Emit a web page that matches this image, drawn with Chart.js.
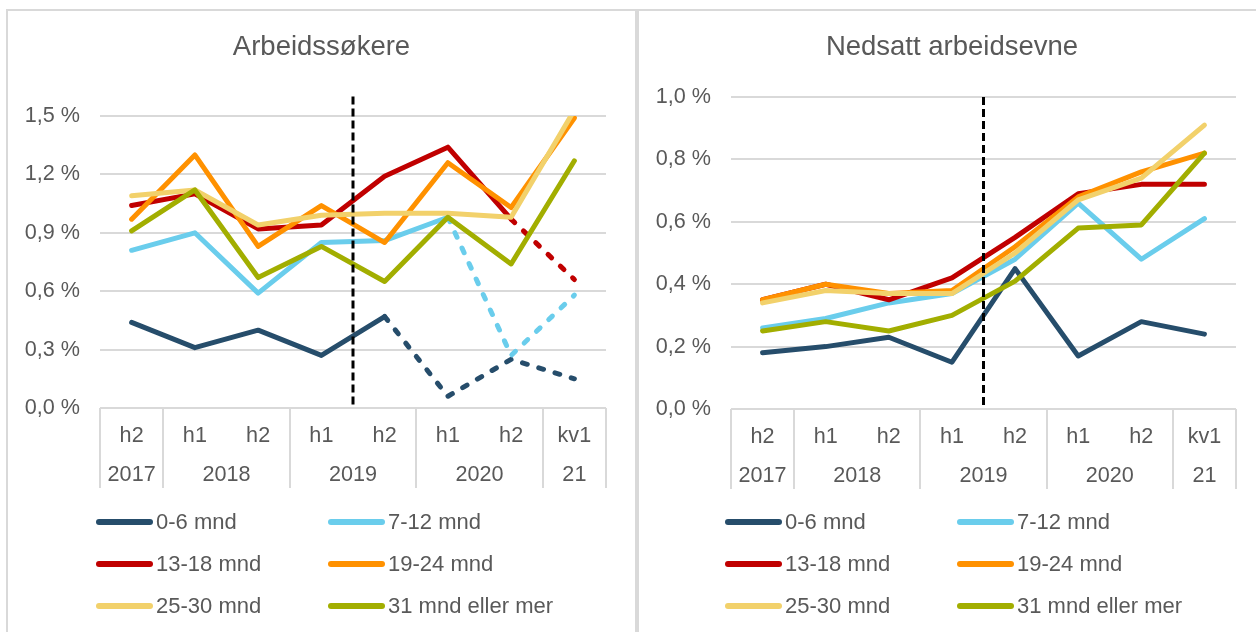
<!DOCTYPE html>
<html><head><meta charset="utf-8">
<script src="https://cdn.jsdelivr.net/npm/chart.js@4/dist/chart.umd.min.js"></script>
<style>
body{margin:0;background:#fff;}
#wrap{position:relative;width:1256px;height:632px;overflow:hidden;background:#fff;font-family:"Liberation Sans",Arial,sans-serif;color:#595959;}
.panel{position:absolute;border:2px solid #d9d9d9;box-sizing:border-box;}
canvas{position:absolute;top:0;}
.title{position:absolute;font-size:27.5px;line-height:28px;white-space:nowrap;transform:translateX(-50%);}
.leg{position:absolute;display:flex;align-items:center;height:26px;font-size:22px;line-height:26px;white-space:nowrap;}
.leg i{display:inline-block;height:6px;border-radius:3px;margin-right:3px;}
</style></head>
<body>
<div id="wrap">
  <div class="panel" style="left:6px;top:9px;width:631px;height:700px;"></div>
  <div class="panel" style="left:637px;top:9px;width:700px;height:700px;"></div>
  <canvas id="c1" width="636" height="632" style="left:0px"></canvas>
  <canvas id="c2" width="620" height="632" style="left:636px"></canvas>
  <div class="title" id="t1" style="left:321.5px;top:32px;"></div>
  <div class="title" id="t2" style="left:952px;top:32px;"></div>
  <div id="legends"></div>
</div>
<script>
// ---- data ----
const periods = ['h2','h1','h2','h1','h2','h1','h2','kv1'];
const years = ['2017','2018','2018','2019','2019','2020','2020','21'];
const seriesNames = ['0-6 mnd','7-12 mnd','13-18 mnd','19-24 mnd','25-30 mnd','31 mnd eller mer'];
const seriesColors = ['#264d6b','#6acdec','#c00000','#ff9100','#f2d16b','#a2ae00'];
const titles = ['Arbeidssøkere','Nedsatt arbeidsevne'];

// Arbeidssøkere (%)
const as_0_6   = [0.44,0.31,0.40,0.27,0.47,0.06,0.25,0.15];
const as_7_12  = [0.81,0.90,0.59,0.85,0.86,0.98,0.27,0.58];
const as_13_18 = [1.04,1.10,0.92,0.94,1.19,1.34,0.97,0.66];
const as_19_24 = [0.97,1.30,0.83,1.04,0.85,1.26,1.03,1.49];
const as_25_30 = [1.09,1.12,0.94,0.99,1.00,1.00,0.98,1.53];
const as_31    = [0.91,1.12,0.67,0.83,0.65,0.98,0.74,1.27];
// index from which each series is shown dashed (null = never)
const as_dashFrom = [4,5,6,null,null,null];

// Nedsatt arbeidsevne (%)
const na_0_6   = [0.18,0.20,0.23,0.15,0.45,0.17,0.28,0.24];
const na_7_12  = [0.26,0.29,0.34,0.37,0.48,0.66,0.48,0.61];
const na_13_18 = [0.35,0.40,0.35,0.42,0.55,0.69,0.72,0.72];
const na_19_24 = [0.35,0.40,0.37,0.38,0.52,0.68,0.76,0.82];
const na_25_30 = [0.34,0.38,0.37,0.37,0.50,0.67,0.74,0.91];
const na_31    = [0.25,0.28,0.25,0.30,0.41,0.58,0.59,0.82];
const na_dashFrom = [null,null,null,null,null,null];

const FONT = '"Liberation Sans", Arial, sans-serif';
const TXT = '#595959';
const GRID = '#d9d9d9';

const deco = {
  id:'deco',
  afterDatasetsDraw(chart, args, opts){
    const x = chart.scales.x, y = chart.scales.y, ctx = chart.ctx;
    const px = (x.getPixelForValue(opts.markerAfter) + x.getPixelForValue(opts.markerAfter+1))/2;
    ctx.save();
    ctx.strokeStyle='#000'; ctx.lineWidth=3; ctx.setLineDash([8,4]);
    ctx.beginPath();
    ctx.moveTo(px, y.getPixelForValue(opts.markerTop));
    ctx.lineTo(px, y.getPixelForValue(0));
    ctx.stroke();
    ctx.restore();
  },
  afterDraw(chart, args, opts){
    const x = chart.scales.x, ctx = chart.ctx, ca = chart.chartArea;
    const n = years.length;
    const edge = i => i===0 ? ca.left : (i===n ? ca.right : (x.getPixelForValue(i-1)+x.getPixelForValue(i))/2);
    ctx.save();
    ctx.strokeStyle = GRID; ctx.lineWidth = 2;
    ctx.font = '21.6px ' + FONT; ctx.fillStyle = TXT;
    ctx.textAlign = 'center'; ctx.textBaseline = 'middle';
    const bounds = [0];
    let start = 0;
    for (let i=1;i<=n;i++){
      if (i===n || years[i]!==years[start]){
        const l = edge(start), r = edge(i);
        ctx.fillText(years[start], (l+r)/2, ca.bottom + 67);
        bounds.push(i);
        start = i;
      }
    }
    bounds.forEach(b => {
      const bx = Math.round(edge(b));
      ctx.beginPath(); ctx.moveTo(bx, ca.bottom); ctx.lineTo(bx, ca.bottom + 80); ctx.stroke();
    });
    ctx.restore();
  }
};

function makeChart(id, data, dashFrom, yMax, step, markerTop, pad, yWidth){
  const datasets = data.map((vals, i) => ({
    label: seriesNames[i],
    data: vals,
    borderColor: seriesColors[i],
    backgroundColor: seriesColors[i],
    borderWidth: 5,
    pointRadius: 0,
    pointHoverRadius: 0,
    tension: 0,
    borderCapStyle: 'round',
    borderJoinStyle: 'round',
    order: data.length - i,
    segment: {
      borderDash: ctx => (dashFrom[i] !== null && ctx.p0DataIndex >= dashFrom[i]) ? [5,12] : undefined
    }
  }));
  return new Chart(document.getElementById(id), {
    type: 'line',
    data: { labels: periods, datasets },
    options: {
      responsive: false,
      animation: false,
      events: [],
      layout: { padding: pad },
      plugins: {
        legend: { display: false },
        title: { display: false },
        tooltip: { enabled: false },
        deco: { markerAfter: 3, markerTop }
      },
      scales: {
        x: {
          offset: true,
          grid: { display: false, drawTicks: false },
          border: { display: false },
          ticks: { color: TXT, font: { family: FONT, size: 21.6 }, padding: 15, maxRotation: 0, autoSkip: false },
          afterFit: s => { s.height = 80; }
        },
        y: {
          min: 0, max: yMax,
          grid: { color: GRID, lineWidth: 2, drawTicks: false },
          border: { display: false },
          ticks: {
            stepSize: step,
            color: TXT,
            font: { family: FONT, size: 21.6 },
            padding: 20,
            callback: v => v.toFixed(1).replace('.', ',') + ' %'
          },
          afterFit: s => { s.width = yWidth; }
        }
      }
    },
    plugins: [deco]
  });
}

makeChart('c1', [as_0_6, as_7_12, as_13_18, as_19_24, as_25_30, as_31], as_dashFrom,
  1.5, 0.3, 1.6, { top: 116, right: 30, bottom: 144, left: 0 }, 100);
makeChart('c2', [na_0_6, na_7_12, na_13_18, na_19_24, na_25_30, na_31], na_dashFrom,
  1.0, 0.2, 1.0, { top: 97, right: 20, bottom: 143, left: 0 }, 95);

document.getElementById('t1').textContent = titles[0];
document.getElementById('t2').textContent = titles[1];

// legends
const legPos = [
  { cols: [96, 328], rows: [509, 551, 593] },
  { cols: [725, 957], rows: [509, 551, 593] }
];
const legHost = document.getElementById('legends');
legPos.forEach(p => {
  seriesNames.forEach((name, i) => {
    const d = document.createElement('div');
    d.className = 'leg';
    d.style.left = p.cols[i % 2] + 'px';
    d.style.top = p.rows[Math.floor(i / 2)] + 'px';
    const sw = document.createElement('i');
    sw.style.width = '57px';
    sw.style.background = seriesColors[i];
    d.appendChild(sw);
    d.appendChild(document.createTextNode(name));
    legHost.appendChild(d);
  });
});
</script>
</body></html>
